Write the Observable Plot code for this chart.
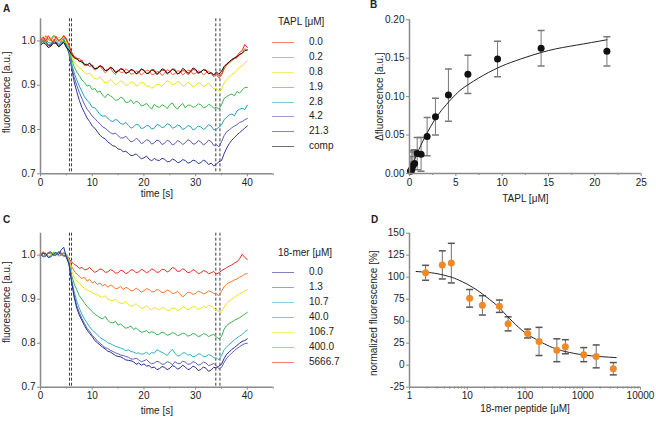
<!DOCTYPE html>
<html><head><meta charset="utf-8">
<script src="https://cdn.jsdelivr.net/npm/d3@7"></script>
<script src="https://cdn.jsdelivr.net/npm/@observablehq/plot@0.6"></script>
<style>
body{margin:0;background:#fff;}
#fig{position:relative;width:656px;height:421px;overflow:hidden;background:#fff;font-family:"Liberation Sans",Arial,sans-serif;color:#222;}
.panel{position:absolute;}
.lbl{position:absolute;font-size:10px;line-height:12px;white-space:nowrap;}
.letter{position:absolute;font-size:10px;font-weight:bold;line-height:12px;}
.sw{position:absolute;height:0;border-top:1px solid;}
</style></head><body><div id="fig"></div><script>
// ---------- shared time axis (s), 0.5 s sampling ----------
const time = [0,0.5,1,1.5,2,2.5,3,3.5,4,4.5,5,5.5,6,6.5,7,7.5,8,8.5,9,9.5,10,10.5,11,11.5,12,12.5,13,13.5,14,14.5,15,15.5,16,16.5,17,17.5,18,18.5,19,19.5,20,20.5,21,21.5,22,22.5,23,23.5,24,24.5,25,25.5,26,26.5,27,27.5,28,28.5,29,29.5,30,30.5,31,31.5,32,32.5,33,33.5,34,34.5,35,35.5,36,36.5,37,37.5,38,38.5,39,39.5,40];
const dashTimes = [5.6, 6.0, 33.9, 34.7];

// ---------- Panel A: TAPL titration traces ----------
const taplLabels = ["0.0","0.2","0.8","1.9","2.8","4.2","21.3","comp"];
const taplColors = ["#f02a22","#fa6a28","#eee31a","#3cb54a","#22a3b4","#5b5cb4","#2e3796","#111111"];
const traceA_0_0 = [1.000,1.009,0.999,1.012,1.003,0.996,1.010,1.001,1.004,1.011,1.006,0.990,0.975,0.965,0.962,0.953,0.957,0.946,0.948,0.942,0.946,0.937,0.940,0.944,0.942,0.933,0.935,0.941,0.938,0.929,0.932,0.938,0.936,0.927,0.930,0.934,0.934,0.925,0.928,0.936,0.933,0.927,0.927,0.935,0.935,0.926,0.929,0.934,0.933,0.925,0.930,0.937,0.936,0.926,0.928,0.933,0.932,0.924,0.929,0.936,0.934,0.926,0.930,0.935,0.935,0.926,0.929,0.922,0.927,0.920,0.925,0.940,0.948,0.952,0.958,0.962,0.966,0.974,0.978,0.992,0.985];
const traceA_0_2 = [1.005,0.998,1.012,1.003,1.000,1.010,1.008,0.999,1.004,1.013,1.001,0.992,0.972,0.962,0.958,0.961,0.953,0.944,0.946,0.950,0.941,0.934,0.938,0.943,0.936,0.928,0.933,0.939,0.930,0.924,0.935,0.929,0.929,0.937,0.933,0.925,0.926,0.932,0.931,0.923,0.928,0.934,0.933,0.924,0.925,0.931,0.930,0.922,0.927,0.935,0.932,0.924,0.926,0.933,0.931,0.923,0.928,0.934,0.933,0.925,0.927,0.932,0.931,0.923,0.928,0.932,0.926,0.919,0.924,0.916,0.922,0.936,0.945,0.950,0.955,0.960,0.962,0.968,0.972,0.983,0.978];
const traceA_0_8 = [1.003,1.010,0.998,1.006,1.007,0.997,1.001,1.009,1.005,0.996,0.998,0.988,0.968,0.952,0.945,0.940,0.934,0.929,0.925,0.928,0.921,0.915,0.914,0.919,0.912,0.905,0.907,0.913,0.909,0.901,0.904,0.910,0.907,0.899,0.902,0.908,0.906,0.898,0.901,0.907,0.905,0.897,0.899,0.893,0.896,0.902,0.902,0.897,0.905,0.910,0.908,0.901,0.903,0.909,0.906,0.898,0.901,0.907,0.904,0.896,0.899,0.906,0.903,0.897,0.900,0.905,0.898,0.892,0.893,0.887,0.890,0.905,0.912,0.918,0.924,0.928,0.933,0.940,0.944,0.950,0.955];
const traceA_1_9 = [1.008,0.999,0.996,1.006,1.004,1.012,1.010,1.001,0.999,1.007,1.003,0.985,0.960,0.942,0.930,0.922,0.912,0.906,0.898,0.900,0.890,0.893,0.884,0.887,0.878,0.872,0.880,0.876,0.872,0.866,0.867,0.873,0.870,0.861,0.862,0.867,0.858,0.864,0.861,0.853,0.855,0.859,0.852,0.846,0.857,0.852,0.850,0.856,0.853,0.847,0.856,0.860,0.851,0.846,0.854,0.859,0.849,0.855,0.855,0.850,0.852,0.858,0.856,0.849,0.851,0.857,0.854,0.848,0.850,0.846,0.856,0.870,0.874,0.878,0.880,0.876,0.886,0.882,0.889,0.895,0.895];
const traceA_2_8 = [0.998,1.004,1.005,0.996,0.995,1.003,1.002,0.994,0.997,1.004,0.993,0.978,0.950,0.928,0.912,0.898,0.886,0.874,0.866,0.860,0.850,0.849,0.842,0.834,0.830,0.831,0.826,0.820,0.818,0.823,0.820,0.813,0.812,0.816,0.809,0.803,0.806,0.812,0.810,0.802,0.804,0.809,0.808,0.801,0.803,0.811,0.810,0.804,0.806,0.813,0.811,0.803,0.805,0.810,0.808,0.800,0.803,0.809,0.807,0.799,0.802,0.808,0.806,0.800,0.804,0.811,0.808,0.799,0.801,0.805,0.810,0.822,0.828,0.833,0.835,0.831,0.842,0.846,0.848,0.845,0.855];
const traceA_4_2 = [0.995,1.002,1.000,0.991,0.992,1.001,0.998,0.990,0.994,1.003,0.990,0.975,0.945,0.918,0.900,0.884,0.870,0.857,0.846,0.839,0.830,0.825,0.818,0.813,0.806,0.803,0.798,0.793,0.790,0.792,0.786,0.781,0.781,0.785,0.778,0.772,0.774,0.780,0.776,0.768,0.771,0.777,0.775,0.767,0.770,0.776,0.774,0.766,0.769,0.776,0.773,0.765,0.768,0.775,0.772,0.766,0.770,0.777,0.774,0.767,0.768,0.775,0.772,0.765,0.769,0.776,0.773,0.764,0.766,0.761,0.772,0.786,0.795,0.799,0.804,0.808,0.811,0.816,0.818,0.822,0.825];
const traceA_21_3 = [0.993,1.000,0.998,0.989,0.990,0.999,0.996,0.987,0.992,1.000,0.988,0.972,0.940,0.908,0.886,0.866,0.850,0.838,0.826,0.818,0.808,0.803,0.795,0.787,0.782,0.779,0.772,0.768,0.763,0.762,0.756,0.755,0.750,0.751,0.746,0.741,0.742,0.745,0.739,0.734,0.736,0.740,0.733,0.729,0.735,0.731,0.730,0.735,0.733,0.727,0.728,0.733,0.731,0.725,0.727,0.732,0.730,0.724,0.726,0.731,0.729,0.723,0.725,0.731,0.728,0.721,0.724,0.718,0.722,0.727,0.730,0.745,0.758,0.768,0.776,0.782,0.788,0.793,0.798,0.803,0.808];
const traceA_comp = [0.990,0.996,0.993,0.985,0.988,0.995,0.995,0.987,0.991,0.997,0.985,0.980,0.970,0.962,0.960,0.955,0.952,0.948,0.945,0.950,0.943,0.937,0.938,0.944,0.940,0.933,0.934,0.940,0.937,0.929,0.931,0.937,0.935,0.927,0.929,0.936,0.933,0.926,0.930,0.937,0.934,0.926,0.928,0.935,0.932,0.924,0.929,0.937,0.935,0.927,0.930,0.936,0.933,0.925,0.929,0.938,0.934,0.927,0.931,0.939,0.936,0.928,0.930,0.935,0.933,0.926,0.928,0.923,0.930,0.925,0.932,0.942,0.948,0.953,0.958,0.961,0.964,0.970,0.972,0.978,0.980];
const tracesA = [traceA_0_0,traceA_0_2,traceA_0_8,traceA_1_9,traceA_2_8,traceA_4_2,traceA_21_3,traceA_comp];
const drawOrderA = [6,5,4,3,2,1,0,7];

// ---------- Panel B: binding curve ----------
const taplConc   = [0.11,0.16,0.25,0.37,0.55,0.83,1.25,1.9,2.8,4.2,6.3,9.5,14.2,21.3];
const dFluor     = [0.003,0.004,0.006,0.010,0.013,0.026,0.025,0.048,0.074,0.102,0.129,0.149,0.163,0.159];
const dFluorErr  = [0.012,0.018,0.022,0.020,0.018,0.021,0.022,0.025,0.024,0.034,0.025,0.023,0.023,0.019];
const fitB_x = [0,0.5,1,2,3,4,5,6,8,10,12,15,18,21.3];
const fitB_y = [0,0.016,0.031,0.055,0.075,0.090,0.103,0.113,0.128,0.140,0.149,0.160,0.167,0.174];

// ---------- Panel C: 18-mer competition traces ----------
const merLabels = ["0.0","1.3","10.7","40.0","106.7","400.0","5666.7"];
const merColors = ["#2a2d8c","#5c62b8","#2fb2c4","#36b24e","#eee31a","#f7762a","#ea2a24"];
const traceC_0_0 = [0.998,1.005,1.004,0.995,0.996,1.003,1.006,1.001,1.012,1.018,0.995,0.980,0.940,0.905,0.880,0.864,0.852,0.840,0.830,0.822,0.815,0.806,0.801,0.796,0.791,0.787,0.782,0.780,0.776,0.772,0.770,0.769,0.766,0.762,0.761,0.760,0.758,0.752,0.755,0.750,0.753,0.748,0.749,0.744,0.746,0.740,0.742,0.747,0.745,0.740,0.743,0.749,0.747,0.741,0.744,0.750,0.746,0.740,0.742,0.748,0.745,0.738,0.740,0.746,0.743,0.736,0.739,0.745,0.744,0.748,0.752,0.765,0.775,0.780,0.786,0.790,0.795,0.800,0.804,0.806,0.810];
const traceC_1_3 = [1.002,0.996,0.997,1.006,1.008,1.000,1.000,1.008,1.005,0.999,0.998,0.983,0.942,0.910,0.886,0.870,0.856,0.845,0.834,0.827,0.818,0.812,0.805,0.800,0.795,0.790,0.788,0.784,0.781,0.778,0.776,0.773,0.772,0.770,0.768,0.764,0.764,0.766,0.762,0.758,0.760,0.763,0.757,0.753,0.755,0.759,0.757,0.752,0.753,0.758,0.756,0.751,0.758,0.754,0.754,0.759,0.757,0.752,0.753,0.758,0.756,0.750,0.752,0.757,0.755,0.749,0.751,0.754,0.749,0.742,0.745,0.756,0.766,0.772,0.778,0.783,0.788,0.792,0.796,0.799,0.800];
const traceC_10_7 = [0.997,1.004,1.003,0.995,0.999,1.006,1.005,0.998,1.000,1.007,0.996,0.982,0.945,0.918,0.896,0.880,0.866,0.855,0.846,0.837,0.830,0.825,0.819,0.813,0.809,0.806,0.801,0.799,0.796,0.793,0.791,0.789,0.787,0.783,0.785,0.781,0.780,0.777,0.778,0.775,0.776,0.780,0.774,0.779,0.777,0.785,0.782,0.779,0.776,0.772,0.780,0.786,0.777,0.771,0.772,0.778,0.778,0.773,0.774,0.769,0.771,0.776,0.775,0.769,0.770,0.774,0.772,0.767,0.766,0.763,0.772,0.785,0.792,0.797,0.802,0.808,0.812,0.816,0.820,0.826,0.830];
const traceC_40_0 = [1.003,0.997,0.999,1.005,1.006,1.000,1.001,1.007,1.004,0.998,0.999,0.985,0.955,0.935,0.922,0.908,0.900,0.891,0.884,0.878,0.872,0.866,0.862,0.858,0.855,0.861,0.852,0.847,0.846,0.850,0.841,0.844,0.838,0.834,0.836,0.839,0.831,0.835,0.829,0.825,0.826,0.829,0.823,0.826,0.824,0.819,0.821,0.825,0.823,0.818,0.820,0.824,0.822,0.817,0.819,0.823,0.821,0.816,0.818,0.822,0.820,0.815,0.817,0.822,0.820,0.815,0.818,0.820,0.814,0.810,0.815,0.832,0.840,0.845,0.848,0.852,0.855,0.858,0.862,0.866,0.870];
const traceC_106_7 = [1.000,1.005,1.006,0.999,1.002,1.008,0.998,1.004,1.007,1.001,1.000,0.990,0.965,0.950,0.942,0.936,0.930,0.925,0.921,0.918,0.915,0.912,0.910,0.906,0.904,0.908,0.901,0.897,0.897,0.900,0.894,0.890,0.891,0.895,0.888,0.884,0.886,0.890,0.884,0.879,0.881,0.885,0.879,0.875,0.882,0.878,0.876,0.881,0.880,0.874,0.875,0.880,0.879,0.874,0.877,0.883,0.881,0.876,0.878,0.884,0.882,0.877,0.879,0.884,0.881,0.886,0.884,0.880,0.875,0.872,0.870,0.882,0.890,0.896,0.900,0.904,0.908,0.912,0.915,0.919,0.922];
const traceC_400_0 = [1.004,0.998,1.000,1.007,1.006,1.000,1.002,1.008,0.999,1.005,1.003,0.992,0.975,0.964,0.957,0.952,0.947,0.950,0.941,0.945,0.937,0.940,0.933,0.937,0.930,0.934,0.927,0.932,0.929,0.924,0.925,0.929,0.922,0.927,0.924,0.919,0.920,0.925,0.921,0.916,0.919,0.924,0.922,0.917,0.917,0.922,0.920,0.915,0.916,0.921,0.918,0.913,0.914,0.918,0.912,0.905,0.910,0.916,0.915,0.911,0.913,0.918,0.916,0.912,0.914,0.919,0.917,0.913,0.912,0.908,0.918,0.928,0.934,0.938,0.940,0.944,0.946,0.950,0.953,0.957,0.958];
const traceC_5666_7 = [1.002,1.008,0.998,1.004,1.005,0.999,1.000,1.006,1.003,0.997,1.000,0.992,0.985,0.979,0.976,0.970,0.972,0.967,0.968,0.972,0.966,0.961,0.964,0.969,0.967,0.961,0.962,0.967,0.965,0.959,0.960,0.966,0.964,0.958,0.961,0.967,0.966,0.960,0.962,0.968,0.965,0.960,0.963,0.969,0.966,0.961,0.962,0.968,0.967,0.962,0.965,0.972,0.970,0.963,0.964,0.969,0.966,0.960,0.962,0.967,0.964,0.958,0.960,0.965,0.963,0.958,0.960,0.963,0.957,0.960,0.965,0.968,0.972,0.975,0.978,0.982,0.985,0.992,1.002,0.995,0.990];
const tracesC = [traceC_0_0,traceC_1_3,traceC_10_7,traceC_40_0,traceC_106_7,traceC_400_0,traceC_5666_7];
const drawOrderC = [6,5,4,3,2,1,0];

// ---------- Panel D: competition curve ----------
const peptideConc  = [1.9,3.7,5.3,11,18.3,36,51,111,175,356,500,1040,1710,3380];
const normFluor    = [105,114,116,76,68,67,47,36,27,17,21,12,10,-4];
const normFluorErr = [8.5,16,22.5,10,11,7,8,5,16,13,8,8,13,7];
const fitD_x = [1.3,2,3,5,7,10,15,20,30,40,60,100,150,200,300,500,1000,2000,3800];
const fitD_y = [106.5,105.5,104,100.5,97,92,85,79,70,62,50,37,30,25.5,20,15.5,11.8,9.8,8.6];

// ---------- helpers ----------
const FONT = "Liberation Sans, Arial, sans-serif";
const AX = "#8a8a8a", TXT = "#222";
const cap = {draw(ctx, size){const w = Math.sqrt(size/Math.PI); ctx.moveTo(-w,0); ctx.lineTo(w,0);}};
const fig = document.getElementById("fig");
function place(node, left, top){const d=document.createElement("div");d.className="panel";d.style.left=left+"px";d.style.top=top+"px";d.appendChild(node);fig.appendChild(d);}
function label(text, left, cy, cls="lbl"){const d=document.createElement("div");d.className=cls;d.textContent=text;d.style.left=left+"px";d.style.top=(cy-6)+"px";fig.appendChild(d);}
function swatch(color, x1, x2, cy){const d=document.createElement("div");d.className="sw";d.style.left=x1+"px";d.style.width=(x2-x1)+"px";d.style.top=Math.round(cy)+"px";d.style.borderColor=color;d.style.opacity=0.6;fig.appendChild(d);}
const style = {background:"transparent", fontFamily:FONT, fontSize:"10px", color:TXT, overflow:"visible"};

function tracePlot(traces, colors, order, height, mTop, mBottom, xLabDy, yLabDy){
  const marks = [
    Plot.ruleX(dashTimes, {stroke:"#3a3a3a", strokeWidth:1, strokeDasharray:"3,2"})
  ];
  for (const k of order){
    const pts = time.map((t,i)=>({t, v: traces[k][i]}));
    marks.push(Plot.line(pts, {x:"t", y:"v", stroke: colors[k], strokeWidth:1}));
  }
  marks.push(
    Plot.ruleX([0], {stroke:AX, strokeWidth:1.5}),
    Plot.ruleY([0.7], {stroke:AX, strokeWidth:1.5}),
    Plot.axisX({ticks:[0,10,20,30,40], tickSize:3, tickPadding:2, stroke:AX, fill:TXT, label:null, fontSize:10}),
    Plot.axisX({ticks:[5,15,25,35,45], tickSize:2, tickFormat:()=>"", stroke:AX, label:null}),
    Plot.axisY({ticks:[0.7,0.8,0.9,1.0], tickSize:3, tickPadding:2, tickFormat:d3.format(".1f"), stroke:AX, fill:TXT, label:null, fontSize:10}),
    Plot.text(["time [s]"], {frameAnchor:"bottom", dy:xLabDy, textAnchor:"middle", fill:TXT, fontSize:10}),
    Plot.text(["fluorescence [a.u.]"], {frameAnchor:"left", dx:-34, dy:yLabDy, rotate:-90, textAnchor:"middle", fill:TXT, fontSize:10})
  );
  return Plot.plot({width:280, height, marginLeft:40, marginRight:7.3, marginTop:mTop, marginBottom:mBottom,
    x:{domain:[0,45]}, y:{domain:[0.7,1.05]}, style, marks});
}

// Panel A
place(tracePlot(tracesA, taplColors, drawOrderA, 210, 18.3, 36.7, 23.4, -4), 0, 0);
// Panel C
place(tracePlot(tracesC, merColors, drawOrderC, 211, 22.7, 34.3, 26.6, -8), 0, 210);

// Panel B
const ptsB = taplConc.map((x,i)=>({x, y:dFluor[i], e:dFluorErr[i]}));
const fitB = fitB_x.map((x,i)=>({x, y:fitB_y[i]}));
place(Plot.plot({width:326, height:210, marginLeft:79, marginRight:15.3, marginTop:19.3, marginBottom:37,
  x:{domain:[0,25]}, y:{domain:[0,0.2]}, style,
  marks:[
    Plot.ruleX(ptsB, {x:"x", y1:d=>d.y-d.e, y2:d=>d.y+d.e, stroke:"#777", strokeWidth:1, clip:true}),
    Plot.dot(ptsB, {x:"x", y:d=>d.y+d.e, symbol:cap, r:3.5, stroke:"#777", fill:"none", clip:true}),
    Plot.dot(ptsB, {x:"x", y:d=>d.y-d.e, symbol:cap, r:3.5, stroke:"#777", fill:"none", clip:true}),
    Plot.line(fitB, {x:"x", y:"y", curve:"natural", stroke:"#222", strokeWidth:1}),
    Plot.dot(ptsB, {x:"x", y:"y", r:3.5, fill:"#111", stroke:"none"}),
    Plot.ruleX([0], {stroke:AX, strokeWidth:1.5}),
    Plot.ruleY([0], {stroke:AX, strokeWidth:1.5}),
    Plot.axisX({ticks:[0,5,10,15,20,25], tickSize:3, tickPadding:2, stroke:AX, fill:TXT, label:null, fontSize:10}),
    Plot.axisX({ticks:[2.5,7.5,12.5,17.5,22.5], tickSize:2, tickFormat:()=>"", stroke:AX, label:null}),
    Plot.axisY({ticks:[0,0.05,0.1,0.15,0.2], tickSize:3, tickPadding:2, tickFormat:d3.format(".2f"), stroke:AX, fill:TXT, label:null, fontSize:10}),
    Plot.text(["TAPL [μM]"], {frameAnchor:"bottom", dy:28.5, textAnchor:"middle", fill:TXT, fontSize:10}),
    Plot.text(["Δfluorescence [a.u.]"], {frameAnchor:"left", dx:-30, dy:0, rotate:-90, textAnchor:"middle", fill:TXT, fontSize:10})
  ]}), 330, 0);

// Panel D
const ptsD = peptideConc.map((x,i)=>({x, y:normFluor[i], e:normFluorErr[i]}));
const fitD = fitD_x.map((x,i)=>({x, y:fitD_y[i]}));
const minorD = [1,10,100,1000].flatMap(p=>[2,3,4,5,6,7,8,9].map(m=>m*p));
place(Plot.plot({width:326, height:211, marginLeft:79, marginRight:16, marginTop:22.7, marginBottom:34.3,
  x:{type:"log", domain:[1,10000]}, y:{domain:[-25,150]}, style,
  marks:[
    Plot.ruleX(ptsD, {x:"x", y1:d=>d.y-d.e, y2:d=>d.y+d.e, stroke:"#707070", strokeWidth:1}),
    Plot.dot(ptsD, {x:"x", y:d=>d.y+d.e, symbol:cap, r:3.5, stroke:"#555", fill:"none"}),
    Plot.dot(ptsD, {x:"x", y:d=>d.y-d.e, symbol:cap, r:3.5, stroke:"#555", fill:"none"}),
    Plot.line(fitD, {x:"x", y:"y", curve:"natural", stroke:"#222", strokeWidth:1}),
    Plot.dot(ptsD, {x:"x", y:"y", r:3.5, fill:"#f08a26", stroke:"none"}),
    Plot.ruleX([1], {stroke:AX, strokeWidth:1.5}),
    Plot.ruleY([-25], {stroke:AX, strokeWidth:1.5}),
    Plot.axisX({ticks:[1,10,100,1000,10000], tickSize:3, tickPadding:2, tickFormat:d=>String(d), stroke:AX, fill:TXT, label:null, fontSize:10}),
    Plot.axisX({ticks:minorD, tickSize:2, tickFormat:()=>"", stroke:AX, label:null}),
    Plot.axisY({ticks:[-25,0,25,50,75,100,125,150], tickSize:3, tickPadding:2, tickFormat:d=>String(d), stroke:AX, fill:TXT, label:null, fontSize:10}),
    Plot.text(["18-mer peptide [μM]"], {frameAnchor:"bottom", dy:25, textAnchor:"middle", fill:TXT, fontSize:10}),
    Plot.text(["normalized fluorescence [%]"], {frameAnchor:"left", dx:-36, dy:3, rotate:-90, textAnchor:"middle", fill:TXT, fontSize:10})
  ]}), 330, 210);

// Legends
label("TAPL [μM]", 278, 22.3);
taplLabels.forEach((s,i)=>{const cy=42.3+i*14.8; swatch(taplColors[i],272,294,cy); label(s,309,cy);});
label("18-mer [μM]", 278, 253.3);
merLabels.forEach((s,i)=>{const cy=271.7+i*15; swatch(merColors[i],272,294,cy); label(s,309,cy);});

// Panel letters
label("A", 3, 8.5, "letter");
label("B", 370, 5, "letter");
label("C", 3, 220, "letter");
label("D", 371, 220, "letter");
</script></body></html>
